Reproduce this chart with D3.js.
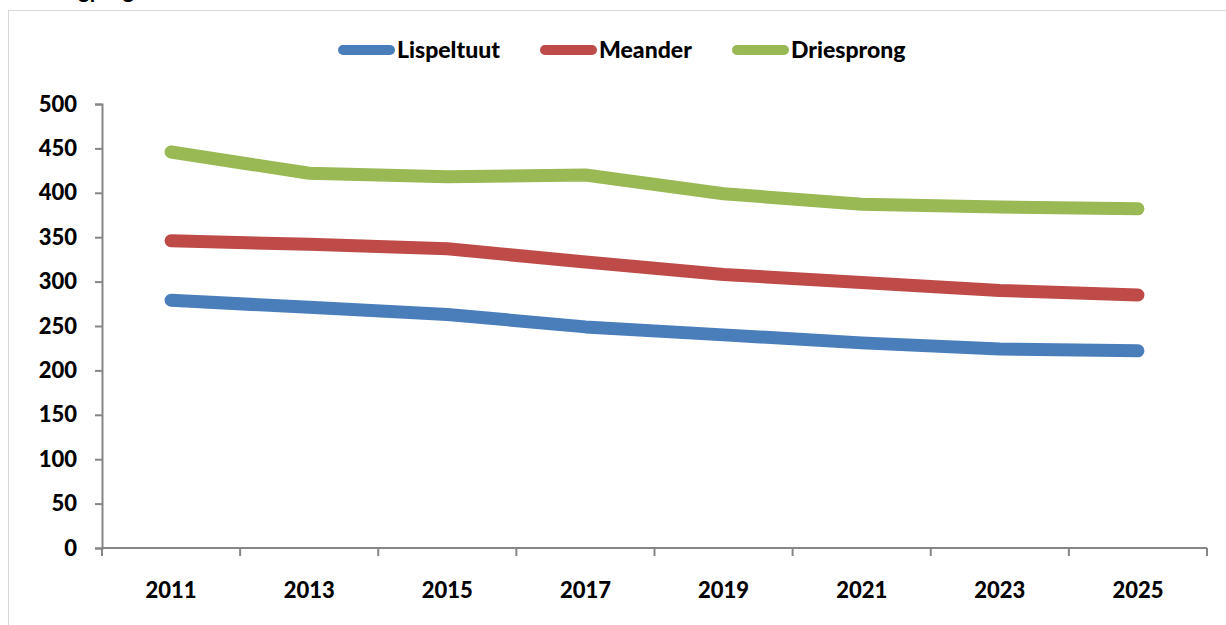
<!DOCTYPE html>
<html><head><meta charset="utf-8">
<script src="https://cdn.jsdelivr.net/npm/d3@7"></script>
<style>html,body{margin:0;padding:0;background:#fff;overflow:hidden}</style>
</head><body>
<script>
const years = ["2011","2013","2015","2017","2019","2021","2023","2025"];
const seriesNames = ["Lispeltuut","Meander","Driesprong"];
const lispeltuut = [279, 271, 263, 249, 240, 231, 224, 222];
const meander = [346, 342, 337, 322, 308, 299, 290, 285];
const driesprong = [446, 422, 418, 420, 399, 387, 384, 382];
const yTicks = [0,50,100,150,200,250,300,350,400,450,500];
const colors = ["#4a7ebb","#be4b48","#98b954"];
const titleText = "Leerlingprognose";

(function () {
const W = 1226, H = 625;
const font = "Lato, 'Open Sans', sans-serif";
const svg = d3.select("body").append("svg").attr("width", W).attr("height", H);

svg.append("text").attr("x", 12).attr("y", -2).attr("font-family", font)
  .attr("font-weight", "bold").attr("font-size", 22).attr("fill", "#000").text(titleText);

svg.append("rect").attr("x", 8.5).attr("y", 10.5).attr("width", W + 10).attr("height", H + 10)
  .attr("fill", "none").attr("stroke", "#d9d9d9").attr("stroke-width", 1);

const pl = 102, pr = 1207, pt = 104, pb = 548;
const x = d3.scaleBand().domain(years).range([pl, pr]);
const y = d3.scaleLinear().domain([0, 500]).range([pb, pt]);

const yAxis = svg.append("g").attr("transform", `translate(${pl},0)`)
  .call(d3.axisLeft(y).tickValues(yTicks).tickSize(7).tickPadding(18));
yAxis.select(".domain").attr("stroke", "#868686").attr("stroke-width", 2);
yAxis.selectAll(".tick line").attr("stroke", "#868686").attr("stroke-width", 2);
yAxis.selectAll("text").attr("font-family", font).attr("font-weight", "900")
  .attr("font-size", 22).attr("fill", "#000");

const xg = svg.append("g");
xg.append("line").attr("x1", pl).attr("x2", pr).attr("y1", pb).attr("y2", pb)
  .attr("stroke", "#868686").attr("stroke-width", 2);
const bounds = years.map(d => x(d)).concat([pr]);
xg.selectAll("line.tk").data(bounds).join("line").attr("class", "tk")
  .attr("x1", d => d).attr("x2", d => d).attr("y1", pb).attr("y2", pb + 8)
  .attr("stroke", "#868686").attr("stroke-width", 2);
xg.selectAll("text").data(years).join("text")
  .attr("x", d => x(d) + x.bandwidth() / 2).attr("y", 598)
  .attr("text-anchor", "middle").attr("font-family", font).attr("font-weight", "900")
  .attr("font-size", 22).attr("fill", "#000").text(d => d);

const data = [lispeltuut, meander, driesprong];
const line = d3.line().x((d, i) => x(years[i]) + x.bandwidth() / 2).y(d => y(d));
svg.selectAll("path.series").data(data).join("path").attr("class", "series")
  .attr("d", line).attr("fill", "none").attr("stroke", (d, i) => colors[i])
  .attr("stroke-width", 13).attr("stroke-linecap", "round").attr("stroke-linejoin", "round");

const legendX = [338, 540, 732];
const lg = svg.append("g");
seriesNames.forEach((n, i) => {
  lg.append("line").attr("x1", legendX[i] + 5).attr("x2", legendX[i] + 52)
    .attr("y1", 50).attr("y2", 50).attr("stroke", colors[i]).attr("stroke-width", 10)
    .attr("stroke-linecap", "round");
  lg.append("text").attr("x", legendX[i] + 59).attr("y", 58).attr("font-family", font)
    .attr("font-weight", "900").attr("font-size", 23).attr("fill", "#000").text(n);
});
})();
</script>
</body></html>
